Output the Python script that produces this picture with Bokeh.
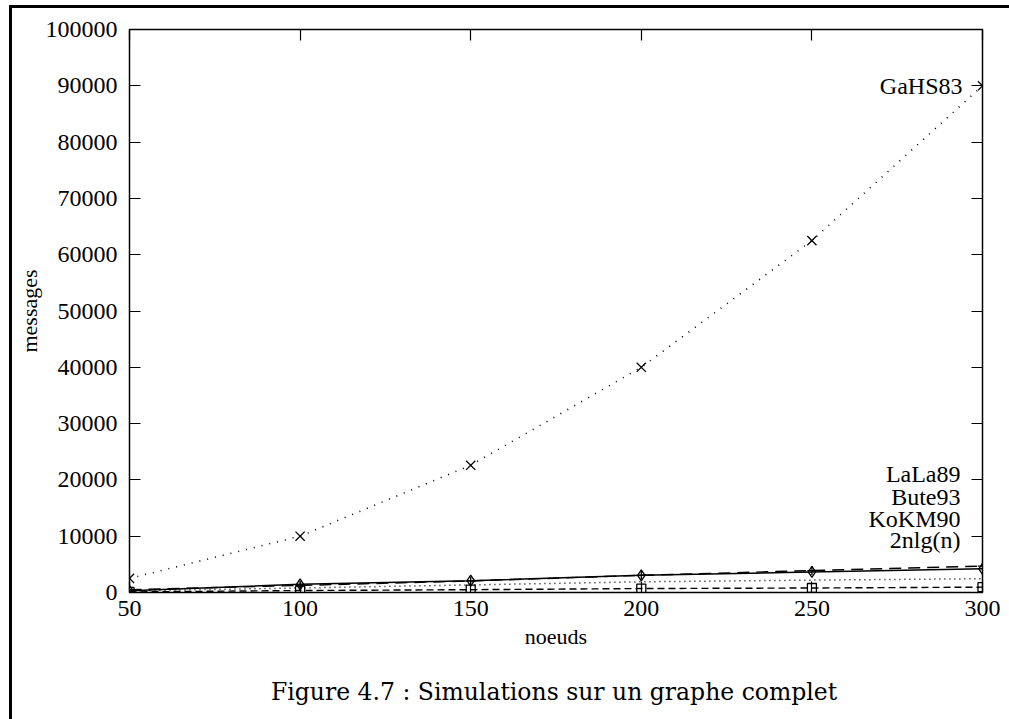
from bokeh.plotting import figure
from bokeh.layouts import column
from bokeh.models import (Range1d, LinearAxis, Label, FixedTicker, Div,
                          BasicTickFormatter, CustomJSTickFormatter)
from bokeh.embed import file_html
from bokeh.resources import INLINE

# ---- data ----
nodes = [50, 100, 150, 200, 250, 300]
gahs83 = [2500, 10000, 22600, 40000, 62500, 90000]
lala89 = [300, 1450, 2100, 3050, 3650, 4200]
bute93 = [500, 1250, 2050, 3050, 3900, 4700]
kokm90 = [100, 350, 500, 700, 800, 950]
nlgn2 = [300, 800, 1350, 1900, 2200, 2450]

x_ticks = [50, 100, 150, 200, 250, 300]
y_ticks = [0, 10000, 20000, 30000, 40000, 50000, 60000, 70000, 80000, 90000, 100000]

SERIF = "Liberation Serif"

p = figure(width=997, height=655, output_backend="svg", toolbar_location=None,
           x_range=Range1d(50, 300), y_range=Range1d(0, 100000),
           x_axis_location=None, y_axis_location=None,
           min_border_left=117, min_border_top=21, min_border_right=27, min_border_bottom=71)
p.grid.visible = False
p.outline_line_color = "black"
p.outline_line_width = 1.5
p.background_fill_color = "white"
p.border_fill_color = "white"


def mk_axis(side, labels=True, label_text=None):
    ax = LinearAxis()
    ax.ticker = FixedTicker(ticks=x_ticks if side in ("below", "above") else y_ticks)
    ax.axis_line_color = None
    ax.major_tick_in = 11
    ax.major_tick_out = 0
    ax.major_tick_line_color = "black"
    ax.major_tick_line_width = 1.2
    ax.minor_tick_line_color = None
    if labels:
        ax.formatter = BasicTickFormatter(use_scientific=False)
        ax.major_label_text_font = SERIF
        ax.major_label_text_font_size = "24px"
        ax.major_label_text_color = "black"
        ax.major_label_standoff = 8 if side == "below" else 12
        if label_text:
            ax.axis_label = label_text
            ax.axis_label_text_font = SERIF
            ax.axis_label_text_font_size = "22px"
            ax.axis_label_text_font_style = "normal"
            ax.axis_label_text_color = "black"
            ax.axis_label_standoff = 5 if side == "below" else 1
    else:
        ax.formatter = CustomJSTickFormatter(code="return ''")
        ax.major_label_standoff = 0
    p.add_layout(ax, side)
    return ax


mk_axis("left", True, "messages")
mk_axis("below", True, "noeuds")
mk_axis("right", False)
mk_axis("above", False)

# ---- series ----
p.line(nodes, gahs83, line_color="black", line_width=1.6, line_dash="1 7")
p.scatter(nodes, gahs83, marker="x", size=13, line_color="black", line_width=1.3)

p.line(nodes, bute93, line_color="black", line_width=1.4, line_dash="12 7")
p.scatter(nodes, bute93, marker="cross", size=9, line_color="black", line_width=1.3)

p.line(nodes, nlgn2, line_color="black", line_width=1.5, line_dash="1 4")

p.line(nodes, kokm90, line_color="black", line_width=1.4, line_dash="7 4")
p.scatter(nodes, kokm90, marker="square", size=9, line_color="black", fill_color=None, line_width=1.3)

p.line(nodes, lala89, line_color="black", line_width=1.5)
p.scatter(nodes, lala89, marker="diamond", size=11, line_color="black", fill_color=None, line_width=1.3)

# ---- text labels ----
lab_style = dict(text_font=SERIF, text_font_size="24px", text_color="black",
                 text_align="right", text_baseline="middle")
p.add_layout(Label(x=300, y=90000, x_offset=-20, text="GaHS83", **lab_style))
key_names = ["LaLa89", "Bute93", "KoKM90", "2nlg(n)"]
key_y = [21000, 16900, 13100, 9300]
for name, yy in zip(key_names, key_y):
    p.add_layout(Label(x=300, y=yy, x_offset=-22, text=name, **lab_style))

caption = "Figure 4.7 : Simulations sur un graphe complet"
cap = Div(text=caption, width=997, height=56,
          styles={"font-family": "'DejaVu Serif'", "font-size": "23.5px",
                  "line-height": "28px", "text-align": "left", "color": "black",
                  "padding-top": "10px", "padding-left": "254px",
                  "box-sizing": "border-box", "display": "block"})

layout = column(p, cap, spacing=0,
                styles={"margin-left": "9px", "margin-top": "5px",
                        "border-left": "3px solid black", "border-top": "3px solid black",
                        "background-color": "white"})

open("out.html", "w").write(file_html(layout, INLINE))
